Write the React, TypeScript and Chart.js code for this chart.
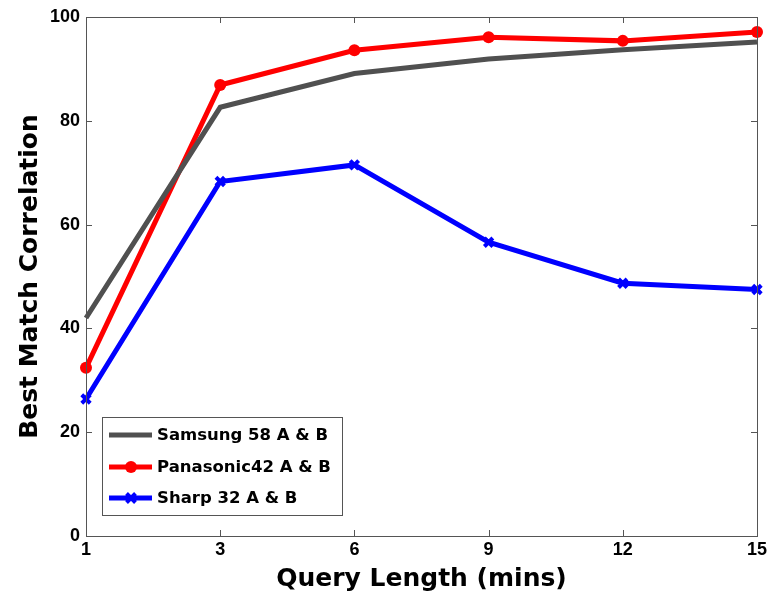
import React, { useEffect, useRef } from "react";
import { Chart, registerables } from "chart.js";

Chart.register(...registerables);

const categories = ["1", "3", "6", "9", "12", "15"];
const samsung = [42.0, 82.6, 89.1, 91.9, 93.7, 95.2];
const panasonic = [32.4, 86.9, 93.6, 96.1, 95.4, 97.1];
const sharp = [26.4, 68.3, 71.5, 56.6, 48.7, 47.5];
const yTicks = [0, 20, 40, 60, 80, 100];

const seriesLabels = ["Samsung 58 A & B", "Panasonic42 A & B", "Sharp 32 A & B"];
const seriesColors = ["#505050", "#ff0000", "#0000ff"];

const TICK_FONT = "'Liberation Sans', Arial, sans-serif";
const TITLE_FONT = "'DejaVu Sans', sans-serif";

const boxPlugin = {
  id: "boxTicks",
  afterDatasetsDraw(chart: any) {
    const { ctx, chartArea } = chart;
    const { left, right, top, bottom } = chartArea;
    const x = chart.scales.x;
    const y = chart.scales.y;
    ctx.save();
    ctx.strokeStyle = "#555555";
    ctx.lineWidth = 1;
    ctx.strokeRect(Math.round(left) + 0.5, Math.round(top) + 0.5, Math.round(right - left), Math.round(bottom - top));
    const tl = 6;
    ctx.beginPath();
    categories.forEach((_, i) => {
      const px = Math.round(x.getPixelForValue(i)) + 0.5;
      ctx.moveTo(px, bottom);
      ctx.lineTo(px, bottom - tl);
      ctx.moveTo(px, top);
      ctx.lineTo(px, top + tl);
    });
    yTicks.forEach((v) => {
      const py = Math.round(y.getPixelForValue(v)) + 0.5;
      ctx.moveTo(left, py);
      ctx.lineTo(left + tl, py);
      ctx.moveTo(right, py);
      ctx.lineTo(right - tl, py);
    });
    ctx.stroke();

    // legend
    const lx = 102, ly = 417, lw = 240, lh = 98;
    ctx.fillStyle = "#ffffff";
    ctx.fillRect(lx, ly, lw, lh);
    ctx.strokeStyle = "#555555";
    ctx.lineWidth = 1;
    ctx.strokeRect(lx + 0.5, ly + 0.5, lw, lh);
    const rows = [435, 467, 498];
    chart.data.datasets.forEach((ds: any, i: number) => {
      const ry = rows[i];
      ctx.strokeStyle = ds.borderColor;
      ctx.lineWidth = 5;
      ctx.beginPath();
      ctx.moveTo(109, ry);
      ctx.lineTo(152, ry);
      ctx.stroke();
      if (ds.pointStyle === "circle") {
        ctx.fillStyle = ds.borderColor;
        ctx.beginPath();
        ctx.arc(131, ry, 6, 0, Math.PI * 2);
        ctx.fill();
      } else if (ds.pointStyle === "crossRot") {
        ctx.lineWidth = 4;
        ctx.beginPath();
        ctx.moveTo(126.5, ry - 4.5);
        ctx.lineTo(135.5, ry + 4.5);
        ctx.moveTo(135.5, ry - 4.5);
        ctx.lineTo(126.5, ry + 4.5);
        ctx.stroke();
      }
      ctx.fillStyle = "#000000";
      ctx.font = `bold 16.5px ${TITLE_FONT}`;
      ctx.textAlign = "left";
      ctx.textBaseline = "middle";
      ctx.fillText(ds.label, 157, ry + 1);
    });
    ctx.restore();
  },
};

export default function App() {
  const ref = useRef<HTMLCanvasElement>(null);
  useEffect(() => {
    document.body.style.margin = "0";
    const chart = new Chart(ref.current!, {
      type: "line",
      data: {
        labels: categories,
        datasets: [
          {
            label: seriesLabels[0],
            data: samsung,
            borderColor: seriesColors[0],
            backgroundColor: seriesColors[0],
            borderWidth: 5,
            pointRadius: 0,
            pointStyle: false as any,
          },
          {
            label: seriesLabels[1],
            data: panasonic,
            borderColor: seriesColors[1],
            backgroundColor: seriesColors[1],
            borderWidth: 5,
            pointStyle: "circle",
            pointRadius: 6,
            pointBorderWidth: 0,
          },
          {
            label: seriesLabels[2],
            data: sharp,
            borderColor: seriesColors[2],
            backgroundColor: seriesColors[2],
            borderWidth: 5,
            pointStyle: "crossRot",
            pointRadius: 6,
            pointBorderWidth: 4,
          },
        ],
      },
      options: {
        animation: false,
        responsive: false,
        layout: { padding: { top: 17, right: 14, left: 0, bottom: 0 } },
        plugins: { legend: { display: false }, tooltip: { enabled: false } },
        scales: {
          x: {
            type: "category",
            offset: false,
            grid: { display: false, drawTicks: false },
            border: { display: false },
            ticks: { color: "#000", font: { family: TICK_FONT, size: 18, weight: "bold" }, padding: 3, maxRotation: 0 },
            title: {
              display: true,
              text: "Query Length (mins)",
              color: "#000",
              font: { family: TITLE_FONT, size: 25, weight: "bold" },
              padding: { top: 0, bottom: 3 },
            },
            afterFit(scale: any) {
              scale.height = 61;
            },
          },
          y: {
            min: 0,
            max: 100,
            afterBuildTicks(scale: any) {
              scale.ticks = yTicks.map((v) => ({ value: v }));
            },
            grid: { display: false, drawTicks: false },
            border: { display: false },
            ticks: { color: "#000", font: { family: TICK_FONT, size: 18, weight: "bold" }, padding: 6 },
            title: {
              display: true,
              text: "Best Match Correlation",
              color: "#000",
              font: { family: TITLE_FONT, size: 25, weight: "bold" },
              padding: { top: 15, bottom: 0 },
            },
            afterFit(scale: any) {
              scale.width = 86;
            },
          },
        },
      },
      plugins: [boxPlugin],
    });
    return () => chart.destroy();
  }, []);
  return <canvas ref={ref} width={771} height={597} style={{ display: "block" }} />;
}
